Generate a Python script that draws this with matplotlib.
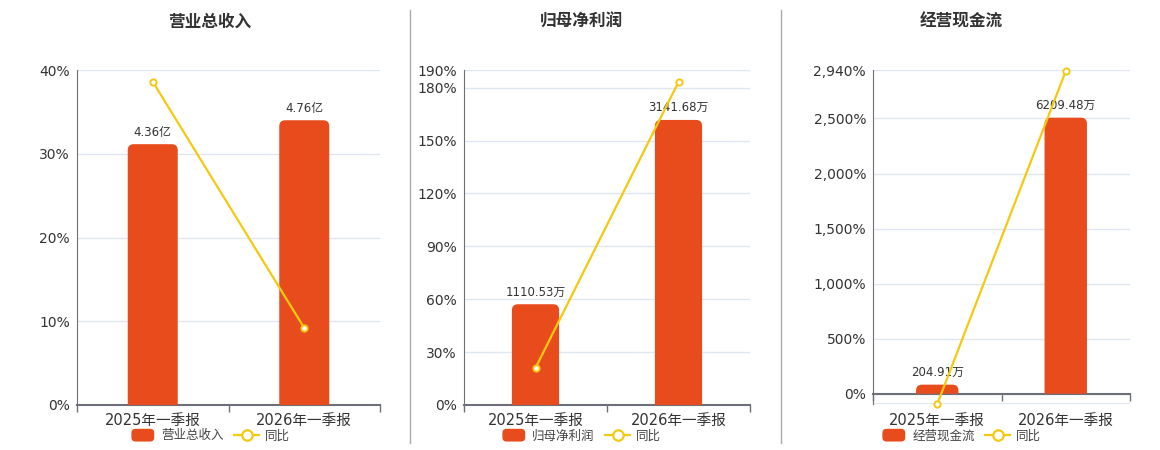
"""
Three-panel quarterly summary: bars for the absolute value, line for YoY growth.
"""

import matplotlib
matplotlib.use("Agg")
import matplotlib.pyplot as plt
from matplotlib.lines import Line2D
from matplotlib.patches import Patch, PathPatch, FancyBboxPatch
from matplotlib.path import Path
from matplotlib.legend_handler import HandlerPatch

plt.rcParams["font.family"] = ["DejaVu Sans", "Noto Sans CJK SC"]

# ---- data -----------------------------------------------------------------
periods = ["2025年一季报", "2026年一季报"]

revenue = [4.36, 4.76]            # 亿
revenue_yoy = [38.6, 9.2]         # %
revenue_labels = ["4.36亿", "4.76亿"]

net_profit = [1110.53, 3141.68]   # 万
net_profit_yoy = [21.0, 183.2]
net_profit_labels = ["1110.53万", "3141.68万"]

cash_flow = [204.91, 6209.48]     # 万
cash_flow_yoy = [-93.0, 2930.3]
cash_flow_labels = ["204.91万", "6209.48万"]

titles = ["营业总收入", "归母净利润", "经营现金流"]
yoy_ticks = [
    [0, 10, 20, 30, 40],
    [0, 30, 60, 90, 120, 150, 180, 190],
    [0, 500, 1000, 1500, 2000, 2500, 2940],
]

# ---- style ----------------------------------------------------------------
W, H = 1160, 450
BAR_COLOR = "#E84C1D"
LINE_COLOR = "#F3C911"
GRID_COLOR = "#E0E6F1"
AXIS_COLOR = "#6E7079"
TEXT_COLOR = "#333333"

# pixel boxes (left, top, right, bottom), y-limits and bar-axis limits
panels = [
    dict(box=(77, 70, 380, 405), ylim=(0, 40), bar_lim=(0, 5.6), label_pad=6,
         title_x=210, bars=revenue, yoy=revenue_yoy, labels=revenue_labels),
    dict(box=(464, 70, 750, 405), ylim=(0, 190), bar_lim=(0, 3692), label_pad=6,
         title_x=581, bars=net_profit, yoy=net_profit_yoy, labels=net_profit_labels),
    dict(box=(873, 70, 1130, 404), ylim=(-93, 2940), bar_lim=(-7282 * 93 / 2940, 7282),
         label_pad=14, title_x=961, bars=cash_flow, yoy=cash_flow_yoy, labels=cash_flow_labels),
]


def rounded_top(ax, rect, radius_px, box):
    """Swap a bar Rectangle for a path whose top corners are rounded."""
    x0, y0 = rect.get_x(), rect.get_y()
    w, h = rect.get_width(), rect.get_height()
    (xl, xr), (yb, yt) = ax.get_xlim(), ax.get_ylim()
    rx = radius_px * (xr - xl) / (box[2] - box[0])
    ry = radius_px * (yt - yb) / (box[3] - box[1])
    ry = min(ry, h)
    x1, y1 = x0 + w, y0 + h
    verts = [(x0, y0), (x0, y1 - ry), (x0, y1), (x0 + rx, y1),
             (x1 - rx, y1), (x1, y1), (x1, y1 - ry), (x1, y0), (x0, y0)]
    codes = [Path.MOVETO, Path.LINETO, Path.CURVE3, Path.CURVE3,
             Path.LINETO, Path.CURVE3, Path.CURVE3, Path.LINETO, Path.CLOSEPOLY]
    patch = PathPatch(Path(verts, codes), facecolor=rect.get_facecolor(),
                      edgecolor="none", zorder=rect.get_zorder())
    rect.remove()
    ax.add_patch(patch)


class RoundedBoxHandler(HandlerPatch):
    def create_artists(self, legend, orig_handle, xdescent, ydescent,
                       width, height, fontsize, trans):
        p = FancyBboxPatch((-xdescent + 1, -ydescent - 1), width - 2, height + 2,
                           boxstyle="round,pad=0,rounding_size=3",
                           facecolor=orig_handle.get_facecolor(), edgecolor="none",
                           transform=trans)
        return [p]


fig = plt.figure(figsize=(W / 100, H / 100), dpi=100)
x_pos = list(range(len(periods)))

for i, p in enumerate(panels):
    l, t, r, b = p["box"]
    ax = fig.add_axes([l / W, 1 - b / H, (r - l) / W, (b - t) / H])
    ax.set_xlim(-0.5, len(periods) - 0.5)
    ax.set_ylim(*p["ylim"])

    # percent axis: grid, left axis line, labels
    ax.set_yticks(yoy_ticks[i])
    ax.set_yticklabels([f"{v:,.0f}%" for v in yoy_ticks[i]])
    ax.tick_params(axis="y", length=0, pad=5, labelsize=10, labelcolor=TEXT_COLOR)
    ax.grid(axis="y", color=GRID_COLOR, linewidth=1)
    ax.set_axisbelow(True)
    if p["ylim"][0] < 0:
        ax.axhline(p["ylim"][0], color=GRID_COLOR, linewidth=1.5, zorder=0)
    for side in ("top", "right"):
        ax.spines[side].set_visible(False)
    ax.spines["left"].set_color(AXIS_COLOR)
    ax.spines["bottom"].set_color(AXIS_COLOR)
    ax.spines["bottom"].set_linewidth(1.5)
    ax.spines["bottom"].set_position(("data", 0))

    ax.set_xticks([-0.5, 0.5, 1.5])
    ax.set_xticklabels([])
    ax.set_xticks(x_pos, minor=True)
    ax.set_xticklabels(periods, minor=True)
    ax.tick_params(axis="x", which="major", length=5, color=AXIS_COLOR, width=1)
    ax.tick_params(axis="x", which="minor", length=0, pad=p["label_pad"],
                   labelsize=10.5, labelcolor=TEXT_COLOR)

    # bars on a hidden twin axis
    axb = ax.twinx()
    axb.set_ylim(*p["bar_lim"])
    axb.axis("off")
    bars = axb.bar(x_pos, p["bars"], width=0.33, color=BAR_COLOR, zorder=2)
    for rect, txt in zip(bars, p["labels"]):
        axb.annotate(txt, (rect.get_x() + rect.get_width() / 2, rect.get_height()),
                     xytext=(0, 4), textcoords="offset points", ha="center", va="bottom",
                     fontsize=8.5, color=TEXT_COLOR)
    for rect in list(bars):
        rounded_top(axb, rect, 6, p["box"])

    # YoY line on top
    axl = ax.twinx()
    axl.set_ylim(*p["ylim"])
    axl.axis("off")
    axl.plot(x_pos, p["yoy"], color=LINE_COLOR, linewidth=1.6, marker="o",
             markersize=4.5, markerfacecolor="white", markeredgecolor=LINE_COLOR,
             markeredgewidth=1.4, clip_on=False)

    fig.text(p["title_x"] / W, 1 - 22 / H, titles[i], ha="center", va="center",
             fontsize=12, fontweight="bold", color=TEXT_COLOR)

    handles = [Patch(facecolor=BAR_COLOR, label=titles[i]),
               Line2D([], [], color=LINE_COLOR, linewidth=1.6, marker="o", markersize=7.5,
                      markerfacecolor="white", markeredgecolor=LINE_COLOR,
                      markeredgewidth=1.6, label="同比")]
    fig.legend(handles=handles, loc="center", bbox_to_anchor=(p["title_x"] / W, 1 - 436 / H),
               ncol=2, frameon=False, fontsize=9, handlelength=2.05, handleheight=0.85,
               handletextpad=0.45, columnspacing=0.8, labelcolor="#444444",
               handler_map={Patch: RoundedBoxHandler()})

# panel separators
for xs in (410, 781):
    fig.add_artist(Line2D([xs / W, xs / W], [1 - 10 / H, 1 - 443 / H],
                          color="#AAAAAA", linewidth=1))

fig.savefig("out.png", dpi=100)
